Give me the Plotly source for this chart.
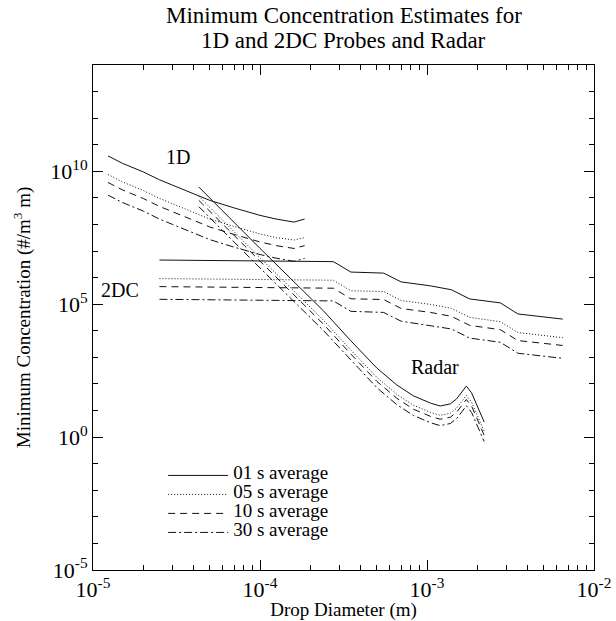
import plotly.graph_objects as go

# ---------------- data ----------------
# 1D probe
d_1d = [1.23e-5, 1.5e-5, 2.0e-5, 2.5e-5, 3.0e-5, 4.0e-5, 5.0e-5, 7.0e-5, 1.0e-4, 1.25e-4, 1.6e-4, 1.85e-4]
c_1d_01 = [3.8e10, 2.0e10, 9.5e9, 4.8e9, 3.0e9, 1.4e9, 8.1e8, 4.2e8, 2.2e8, 1.6e8, 1.23e8, 1.6e8]
c_1d_05 = [7.6e9, 4.0e9, 1.9e9, 9.6e8, 6.0e8, 2.8e8, 1.6e8, 8.4e7, 4.4e7, 3.2e7, 2.6e7, 3.2e7]
c_1d_10 = [3.8e9, 2.0e9, 9.5e8, 4.8e8, 3.0e8, 1.4e8, 8.1e7, 4.2e7, 2.2e7, 1.6e7, 1.25e7, 1.6e7]
c_1d_30 = [1.27e9, 6.7e8, 3.2e8, 1.6e8, 1.0e8, 4.6e7, 2.7e7, 1.4e7, 7.4e6, 5.4e6, 4.1e6, 5.3e6]

# 2DC probe
d_2dc = [2.5e-5, 2.75e-4, 3.5e-4, 5.5e-4, 7.0e-4, 1.05e-3, 1.4e-3, 1.8e-3, 2.75e-3, 3.5e-3, 6.5e-3]
c_2dc_01 = [4.6e6, 4.0e6, 1.62e6, 1.48e6, 6.9e5, 4.9e5, 3.5e5, 1.58e5, 1.12e5, 4.3e4, 2.75e4]
c_2dc_05 = [9.2e5, 8.0e5, 3.2e5, 3.0e5, 1.38e5, 9.8e4, 7.0e4, 3.2e4, 2.2e4, 8.6e3, 5.5e3]
c_2dc_10 = [4.6e5, 4.0e5, 1.6e5, 1.5e5, 6.9e4, 4.9e4, 3.5e4, 1.6e4, 1.1e4, 4.3e3, 2.8e3]
c_2dc_30 = [1.53e5, 1.33e5, 5.4e4, 4.9e4, 2.3e4, 1.6e4, 1.17e4, 5.3e3, 3.7e3, 1.43e3, 9.2e2]

# Radar
d_radar = [4.3e-5, 1.0e-4, 2.4e-4, 3.5e-4, 5.0e-4, 6.6e-4, 8.3e-4, 1.05e-3, 1.2e-3, 1.38e-3,
           1.5e-3, 1.62e-3, 1.72e-3, 1.85e-3, 2.0e-3, 2.2e-3]
c_radar_01 = [2.57e9, 1.26e7, 5.6e4, 4.2e3, 400, 91, 35.5, 19, 14.8, 17.8, 27, 50, 83, 46, 14.8, 3.7]
c_radar_05 = [1.15e9, 5.6e6, 2.5e4, 1.87e3, 179, 40.6, 15.8, 8.5, 6.6, 7.9, 12, 22.3, 37, 20.5, 6.6, 1.65]
c_radar_10 = [8.1e8, 4.0e6, 1.77e4, 1.33e3, 126, 28.8, 11.2, 6.0, 4.7, 5.6, 8.5, 15.8, 26, 14.6, 4.7, 1.17]
c_radar_30 = [4.7e8, 2.3e6, 1.02e4, 770, 73, 16.6, 6.5, 3.47, 2.7, 3.25, 4.9, 9.1, 15.1, 8.4, 2.7, 0.68]

series_labels = ["01 s average", "05 s average", "10 s average", "30 s average"]

# axis ticks
y_major = [1e-5, 1e0, 1e5, 1e10]
y_major_text = ["10<sup>-5</sup>", "10<sup>0</sup>", "10<sup>5</sup>", "10<sup>10</sup>"]
y_minor = [1e-4, 1e-3, 1e-2, 1e-1, 1e1, 1e2, 1e3, 1e4, 1e6, 1e7, 1e8, 1e9, 1e11, 1e12, 1e13]
x_major = [1e-5, 1e-4, 1e-3, 1e-2]
x_major_text = ["10<sup>-5</sup>", "10<sup>-4</sup>", "10<sup>-3</sup>", "10<sup>-2</sup>"]
x_minor = [m * 10.0 ** e for e in (-5, -4, -3) for m in range(2, 10)]

# ---------------- styling ----------------
FONT = "Liberation Serif"
dashes = ["solid", "1px,2px", "7px,5px", "8px,3px,2px,3px"]
LINE_COLOR = "#111111"

fig = go.Figure()

groups = [
    (d_1d, [c_1d_01, c_1d_05, c_1d_10, c_1d_30], True),
    (d_2dc, [c_2dc_01, c_2dc_05, c_2dc_10, c_2dc_30], False),
    (d_radar, [c_radar_01, c_radar_05, c_radar_10, c_radar_30], False),
]
for d, cs, show in groups:
    for i, c in enumerate(cs):
        fig.add_trace(go.Scatter(
            x=d, y=c, mode="lines",
            name="<span style='font-size:19px'>" + series_labels[i] + "</span>",
            legendgroup=series_labels[i], showlegend=show,
            line=dict(color=LINE_COLOR, width=1, dash=dashes[i]),
        ))

axis_common = dict(
    type="log", showline=True, linecolor="black", linewidth=1, mirror="allticks",
    ticks="inside", ticklen=10, tickcolor="black", tickwidth=1,
    showgrid=False, zeroline=False, automargin=False,
    tickfont=dict(family=FONT, size=22, color="black"),
)

fig.update_xaxes(
    **axis_common, range=[-5, -2], tickmode="array", tickvals=x_major, ticktext=x_major_text,
    minor=dict(tickvals=x_minor, ticks="inside", ticklen=5, tickcolor="black", showgrid=False),
    title=dict(text="Drop Diameter (m)", font=dict(family=FONT, size=19, color="black"), standoff=0),
)
fig.update_yaxes(
    **axis_common, range=[-5, 14], tickmode="array", tickvals=y_major, ticktext=y_major_text,
    minor=dict(tickvals=y_minor, ticks="inside", ticklen=5, tickcolor="black", showgrid=False),
    title=dict(text="Minimum Concentration (#/m<sup>3</sup> m)", font=dict(family=FONT, size=19, color="black"), standoff=14),
)

annotations = [
    dict(text="Minimum Concentration Estimates for", xref="paper", yref="paper", x=0.5, y=1.099,
         showarrow=False, font=dict(family=FONT, size=23, color="black"), yanchor="middle"),
    dict(text="1D and 2DC Probes and Radar", xref="paper", yref="paper", x=0.5, y=1.049,
         showarrow=False, font=dict(family=FONT, size=23, color="black"), yanchor="middle"),
    dict(text="1D", x=-4.49, y=10.54, xref="x", yref="y", showarrow=False,
         font=dict(family=FONT, size=20, color="black")),
    dict(text="2DC", x=-4.84, y=5.53, xref="x", yref="y", showarrow=False,
         font=dict(family=FONT, size=20, color="black")),
    dict(text="Radar", x=-2.95, y=2.64, xref="x", yref="y", showarrow=False,
         font=dict(family=FONT, size=20, color="black")),
]

fig.update_layout(
    width=616, height=621,
    margin=dict(l=93, r=22, t=65, b=51),
    paper_bgcolor="white", plot_bgcolor="white",
    font=dict(family=FONT, color="black"),
    annotations=annotations,
    showlegend=True,
    legend=dict(x=0.14, y=0.216, xanchor="left", yanchor="top",
                bgcolor="rgba(0,0,0,0)", borderwidth=0,
                font=dict(family=FONT, size=10, color="black"),
                itemwidth=60, tracegroupgap=0),
)

fig.write_html("out.html", config={"displayModeBar": False},
               post_script="document.body.style.margin='0';document.body.style.padding='0';")
